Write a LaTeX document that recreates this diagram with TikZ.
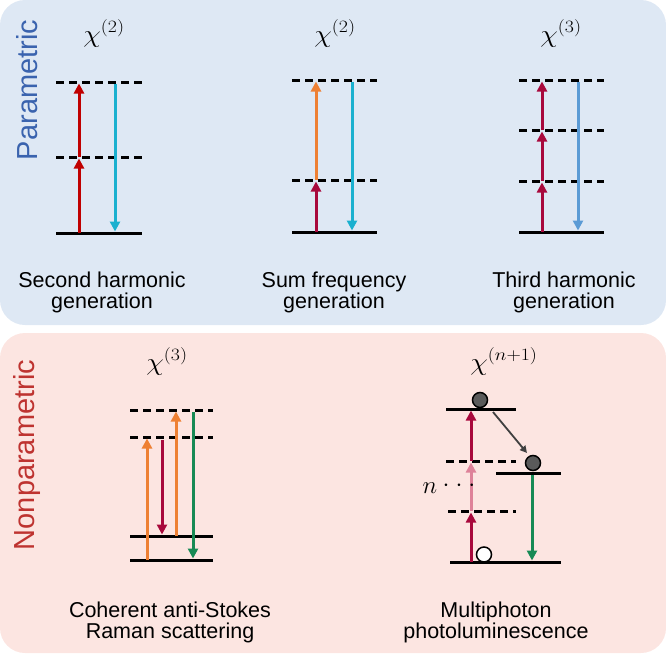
\documentclass[tikz,border=0pt]{standalone}
\usepackage[no-math]{fontspec}
\setmainfont{Liberation Sans}
\usepackage{graphicx}
\usetikzlibrary{arrows.meta}
\DeclareMathSizes{25}{25}{19}{15}
\DeclareMathSizes{24}{24}{18}{14}
\definecolor{bgblue}{HTML}{DEE8F4}
\definecolor{bgpink}{HTML}{FCE5E1}
\definecolor{pblue}{HTML}{3A63AE}
\definecolor{nred}{HTML}{BE3330}
\definecolor{redA}{HTML}{C00000}
\definecolor{cyanA}{HTML}{1AB0CF}
\definecolor{crimsonA}{HTML}{A8093C}
\definecolor{orangeA}{HTML}{EE8033}
\definecolor{blueA}{HTML}{5B9BD5}
\definecolor{greenA}{HTML}{178A55}
\definecolor{pinkA}{HTML}{DE8299}
\definecolor{grayA}{HTML}{404040}
\definecolor{ballA}{HTML}{5A5A5A}
\tikzset{
  lvl/.style={line width=3pt},
  dlvl/.style={line width=3pt, dash pattern=on 8pt off 5pt},
  arr/.style={line width=3pt, -{Triangle[width=10pt,length=10pt]}},
  lab/.style={font=\fontsize{21.5}{22}\selectfont, anchor=base, inner sep=0pt},
  chi/.style={font=\fontsize{25}{30}\selectfont, anchor=base, inner sep=0pt},
  side/.style={font=\fontsize{29}{30}\selectfont, rotate=90, inner sep=0pt},
  ball/.style={circle, draw=black, line width=1.5pt, minimum size=15pt, inner sep=0pt},
}
\begin{document}
\begin{tikzpicture}[x=1pt,y=-1pt]
\useasboundingbox (0,0) rectangle (666,653);
% panels
\fill[bgblue, rounded corners=25pt] (0,0) rectangle (666,325);
\fill[bgpink, rounded corners=25pt] (0,333) rectangle (666,653);
\node[side, text=pblue] (para) at (27,90) {Parametric};
\node[side, text=nred] (nonpara) at (27,455) {Nonparametric};

% ---------- SHG ----------
\node[chi] (chiA) at (104,42) {\scalebox{1.15}[1]{$\chi^{(2)}$}};
\draw[lvl] (56,233) -- (142,233);
\draw[dlvl] (56,157) -- (142,157);
\draw[dlvl] (56,82) -- (142,82);
\coordinate (a0) at (79,233); \coordinate (a1) at (79,158.5);
\coordinate (a1s) at (79,157); \coordinate (a2) at (79,83.5);
\draw[arr, redA] (a0) -- (a1);
\draw[arr, redA] (a1s) -- (a2);
\coordinate (c0) at (115,84); \coordinate (c1) at (115,231.5);
\draw[arr, cyanA] (c0) -- (c1);
\node[lab] (shg1) at (102,287) {Second harmonic};
\node[lab] (shg2) at (102,308) {generation};

% ---------- SFG ----------
\node[chi] (chiB) at (335,42) {\scalebox{1.15}[1]{$\chi^{(2)}$}};
\draw[lvl] (292,232) -- (377,232);
\draw[dlvl] (292,180) -- (377,180);
\draw[dlvl] (292,80) -- (377,80);
\coordinate (b0) at (316,232); \coordinate (b1) at (316,181.5);
\coordinate (b1s) at (316,180); \coordinate (b2) at (316,81.5);
\draw[arr, crimsonA] (b0) -- (b1);
\draw[arr, orangeA] (b1s) -- (b2);
\coordinate (d0) at (352,82); \coordinate (d1) at (352,230.5);
\draw[arr, cyanA] (d0) -- (d1);
\node[lab] (sfg1) at (334,287) {Sum frequency};
\node[lab] (sfg2) at (334,308) {generation};

% ---------- THG ----------
\node[chi] (chiC) at (561,42) {\scalebox{1.15}[1]{$\chi^{(3)}$}};
\draw[lvl] (519,232) -- (604,232);
\draw[dlvl] (519,181) -- (604,181);
\draw[dlvl] (519,130) -- (604,130);
\draw[dlvl] (519,80) -- (604,80);
\coordinate (t0) at (542,232); \coordinate (t1) at (542,182.5);
\coordinate (t1s) at (542,181); \coordinate (t2) at (542,131.5);
\coordinate (t2s) at (542,130); \coordinate (t3) at (542,81.5);
\draw[arr, crimsonA] (t0) -- (t1);
\draw[arr, crimsonA] (t1s) -- (t2);
\draw[arr, crimsonA] (t2s) -- (t3);
\coordinate (u0) at (578,82); \coordinate (u1) at (578,230.5);
\draw[arr, blueA] (u0) -- (u1);
\node[lab] (thg1) at (564,287) {Third harmonic};
\node[lab] (thg2) at (564,308) {generation};

% ---------- CARS ----------
\node[chi] (chiD) at (167,370) {\scalebox{1.15}[1]{$\chi^{(3)}$}};
\draw[dlvl] (130,410) -- (213,410);
\draw[dlvl] (130,437) -- (213,437);
\draw[lvl] (130,536) -- (213,536);
\draw[lvl] (130,560) -- (213,560);
\coordinate (e0) at (147,560); \coordinate (e1) at (147,438.5);
\draw[arr, orangeA] (e0) -- (e1);
\coordinate (f0) at (162,439.5); \coordinate (f1) at (162,534.5);
\draw[arr, crimsonA] (f0) -- (f1);
\coordinate (g0) at (176,536); \coordinate (g1) at (176,411.5);
\draw[arr, orangeA] (g0) -- (g1);
\coordinate (h0) at (193,412); \coordinate (h1) at (193,558.5);
\draw[arr, greenA] (h0) -- (h1);
\node[lab] (cars1) at (170,617) {Coherent anti-Stokes};
\node[lab] (cars2) at (170,638) {Raman scattering};

% ---------- MPL ----------
\node[chi] (chiE) at (504,370) {\scalebox{1.15}[1]{$\chi^{(n+1)}$}};
\draw[lvl] (446,409) -- (516,409);
\draw[dlvl] (446,461) -- (516,461);
\draw[lvl] (496,473) -- (561,473);
\draw[dlvl] (448,511) -- (516,511);
\draw[lvl] (450,562) -- (561,562);
\coordinate (m0) at (471,562); \coordinate (m1) at (471,512.5);
\coordinate (m1s) at (471,511); \coordinate (m2) at (471,462.5);
\coordinate (m2s) at (471,461); \coordinate (m3) at (471,410.5);
\draw[arr, crimsonA] (m0) -- (m1);
\draw[arr, pinkA] (m1s) -- (m2);
\draw[arr, crimsonA] (m2s) -- (m3);
\node[ball, fill=ballA] (topball) at (480,400) {};
\node[ball, fill=ballA] (midball) at (533,463) {};
\node[ball, fill=white] (lowball) at (484,554.5) {};
\coordinate (k0) at (493,412); \coordinate (k1) at (527,453);
\draw[line width=1.8pt, grayA, -{Triangle[width=7pt,length=7pt]}] (k0) -- (k1);
\coordinate (p0) at (532,474.5); \coordinate (p1) at (532,560.5);
\draw[arr, greenA] (p0) -- (p1);
\node[font=\fontsize{24}{28}\selectfont, inner sep=0pt] (nlab) at (430,488) {$n$};
\node[font=\fontsize{24}{28}\selectfont, inner sep=0pt] (ndots) at (459,486) {$\cdot$\hspace{6pt}$\cdot$\hspace{6pt}$\cdot$};
\node[lab] (mpl1) at (496,617) {Multiphoton};
\node[lab] (mpl2) at (496,638) {photoluminescence};
\end{tikzpicture}
\end{document}
